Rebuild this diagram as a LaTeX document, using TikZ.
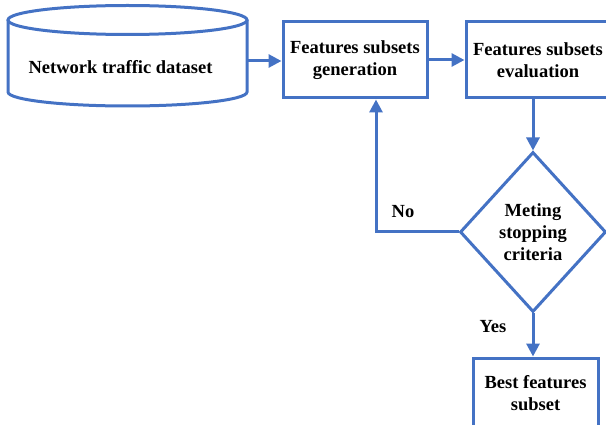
\documentclass[tikz,border=0pt]{standalone}
\usepackage{fontspec}
\setmainfont{Liberation Serif}
\usetikzlibrary{shapes.geometric,arrows.meta}
\definecolor{flowblue}{RGB}{68,114,196}

\begin{document}
\begin{tikzpicture}[x=1pt, y=-1pt, line width=3pt, draw=flowblue,
    every node/.style={text=black, font=\fontsize{18.5}{22}\selectfont\bfseries, align=center},
    procbox/.style={draw=flowblue, rectangle, minimum width=144, minimum height=76, inner sep=0},
    decision/.style={draw=flowblue, diamond, aspect=0.9125, minimum width=146, minimum height=160, inner sep=0},
    arr/.style={draw=flowblue, -{Triangle[length=13pt,width=13pt]}}]
  \useasboundingbox (0,0) rectangle (606,425);

  % dataset cylinder
  \draw (127.5,20) ellipse [x radius=119.5, y radius=14.5];
  \draw (8,20) -- (8,92) arc[start angle=180, end angle=0, x radius=119.5, y radius=14] -- (247,20);
  \node (data) at (120.5,67) {Network traffic dataset};
  \coordinate (dataright) at (247,61);

  % process boxes
  \node[procbox] (gen) at (355,60) {Features subsets\\generation};
  \node[procbox] (eval) at (538,60) {Features subsets\\evaluation};
  \node[decision] (stop) at (533,232) {Meting\\stopping\\criteria};
  \node[procbox, minimum width=125, minimum height=70] (best) at (535.5,393) {Best features\\subset};

  % connectors
  \draw[arr] (dataright) -- (dataright -| gen.west);
  \draw[arr] (gen.east) -- (eval.west);
  \draw[arr] (eval.south -| stop.north) -- (stop.north);
  \coordinate (back) at (376,232);
  \draw[arr] (stop.west) -- (back) -- (back |- gen.south);
  \draw[arr] (stop.south) -- (stop.south |- best.north);

  % labels
  \node (no) at (403,212) {No};
  \node (yes) at (493,327) {Yes};
\end{tikzpicture}
\end{document}
